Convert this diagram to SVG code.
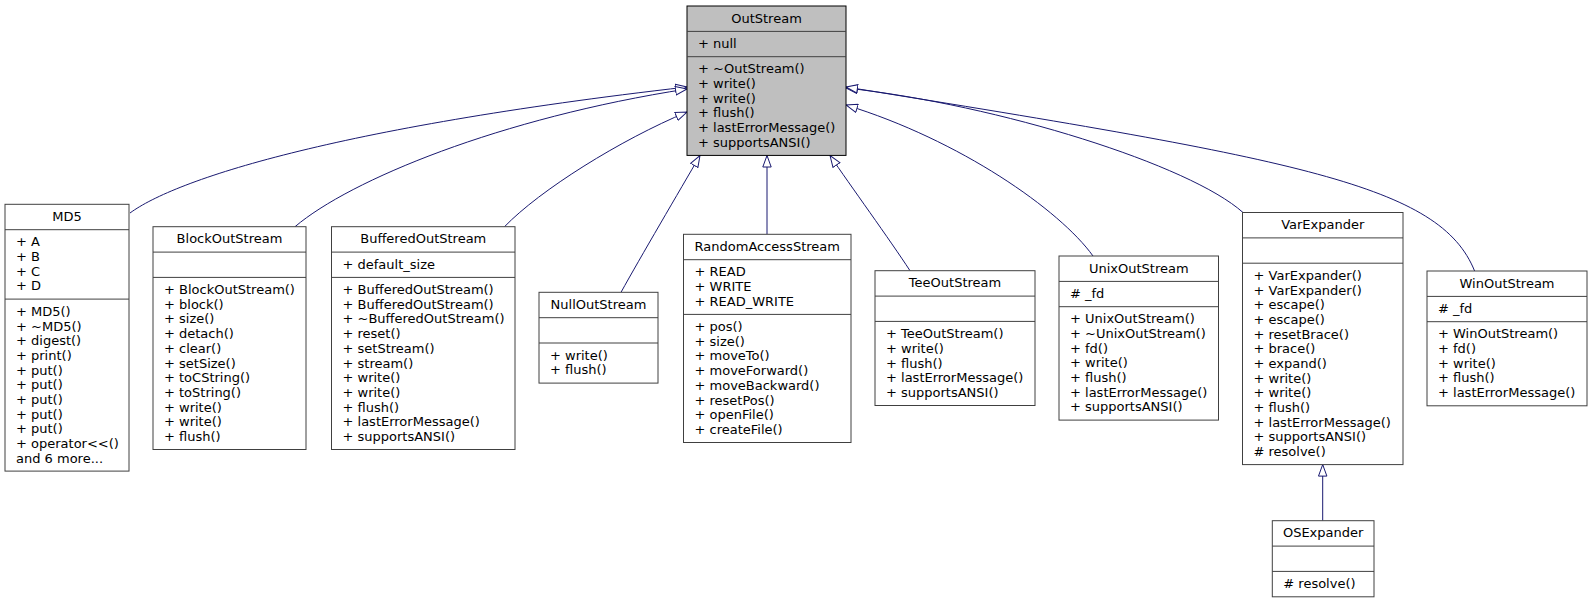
<svg xmlns="http://www.w3.org/2000/svg" width="1593" height="603" viewBox="0 0 1593 603">
<style>
.b{fill:#fff;stroke:#404040;stroke-width:1}
.g{fill:#bfbfbf;stroke:#000;stroke-width:1}
.s{stroke:#404040;stroke-width:1}
text{font-family:"DejaVu Sans","Liberation Sans",sans-serif;font-size:13px;fill:#000}
.c{text-anchor:middle}
.e{fill:none;stroke:#191970;stroke-width:1;marker-end:url(#tri)}
</style>
<defs>
<marker id="tri" viewBox="0 0 13 10" refX="12" refY="5" markerWidth="13" markerHeight="10" markerUnits="userSpaceOnUse" orient="auto">
<path d="M0.5,0.8 L12,5 L0.5,9.2 Z" fill="#fff" stroke="#191970" stroke-width="1"/>
</marker>
</defs>
<rect width="1593" height="603" fill="#fff"/>
<g id="connectors">
<path class="e" d="M130,213 C175,180 330,128 687,87"/>
<path class="e" d="M295,226.7 C350,180 500,118 687,89"/>
<path class="e" d="M504.5,226.7 C540,190 620,140 687,112"/>
<path class="e" d="M621,292.3 C640,258 680,190 700,155.5"/>
<path class="e" d="M767,234.3 L767,155.5"/>
<path class="e" d="M910,270.7 C890,240 850,185 830,155.5"/>
<path class="e" d="M1093,256 C1060,210 960,140 846,105"/>
<path class="e" d="M1243,212.5 C1190,165 1000,105 846,88"/>
<path class="e" d="M1474.6,271 C1440,185 1300,160 846,87"/>
<path class="e" d="M1322.7,520.7 L1322.7,464.6"/>
</g>
<g id="OutStream">
<rect class="g" x="687" y="6" width="159" height="149.4"/>
<line class="s" stroke="#000" x1="687" y1="31.4" x2="846" y2="31.4"/>
<line class="s" stroke="#000" x1="687" y1="56.7" x2="846" y2="56.7"/>
<text class="c" x="766.5" y="22.7">OutStream</text>
<text x="698" y="48.1">+ null</text>
<text x="698"><tspan x="698" y="73.4">+ ~OutStream()</tspan><tspan x="698" y="88.1">+ write()</tspan><tspan x="698" y="102.7">+ write()</tspan><tspan x="698" y="117.4">+ flush()</tspan><tspan x="698" y="132.1">+ lastErrorMessage()</tspan><tspan x="698" y="146.8">+ supportsANSI()</tspan></text>
</g>
<g id="MD5">
<rect class="b" x="5" y="204.3" width="124" height="266.8"/>
<line class="s" x1="5" y1="229.7" x2="129" y2="229.7"/>
<line class="s" x1="5" y1="299.1" x2="129" y2="299.1"/>
<text class="c" x="67" y="221">MD5</text>
<text><tspan x="16" y="246.4">+ A</tspan><tspan x="16" y="261.1">+ B</tspan><tspan x="16" y="275.7">+ C</tspan><tspan x="16" y="290.4">+ D</tspan></text>
<text><tspan x="16" y="315.8">+ MD5()</tspan><tspan x="16" y="330.5">+ ~MD5()</tspan><tspan x="16" y="345.1">+ digest()</tspan><tspan x="16" y="359.8">+ print()</tspan><tspan x="16" y="374.5">+ put()</tspan><tspan x="16" y="389.2">+ put()</tspan><tspan x="16" y="403.8">+ put()</tspan><tspan x="16" y="418.5">+ put()</tspan><tspan x="16" y="433.2">+ put()</tspan><tspan x="16" y="447.8">+ operator&lt;&lt;()</tspan><tspan x="16" y="462.5">and 6 more...</tspan></text>
</g>
<g id="BlockOutStream">
<rect class="b" x="153" y="226.7" width="153" height="222.8"/>
<line class="s" x1="153" y1="252.1" x2="306" y2="252.1"/>
<line class="s" x1="153" y1="277.4" x2="306" y2="277.4"/>
<text class="c" x="229.5" y="243.4">BlockOutStream</text>
<text><tspan x="164" y="294.1">+ BlockOutStream()</tspan><tspan x="164" y="308.8">+ block()</tspan><tspan x="164" y="323.4">+ size()</tspan><tspan x="164" y="338.1">+ detach()</tspan><tspan x="164" y="352.8">+ clear()</tspan><tspan x="164" y="367.5">+ setSize()</tspan><tspan x="164" y="382.1">+ toCString()</tspan><tspan x="164" y="396.8">+ toString()</tspan><tspan x="164" y="411.5">+ write()</tspan><tspan x="164" y="426.1">+ write()</tspan><tspan x="164" y="440.8">+ flush()</tspan></text>
</g>
<g id="BufferedOutStream">
<rect class="b" x="331.5" y="226.7" width="183.5" height="222.8"/>
<line class="s" x1="331.5" y1="252.1" x2="515" y2="252.1"/>
<line class="s" x1="331.5" y1="277.4" x2="515" y2="277.4"/>
<text class="c" x="423.25" y="243.4">BufferedOutStream</text>
<text x="342.5" y="268.8">+ default_size</text>
<text><tspan x="342.5" y="294.1">+ BufferedOutStream()</tspan><tspan x="342.5" y="308.8">+ BufferedOutStream()</tspan><tspan x="342.5" y="323.4">+ ~BufferedOutStream()</tspan><tspan x="342.5" y="338.1">+ reset()</tspan><tspan x="342.5" y="352.8">+ setStream()</tspan><tspan x="342.5" y="367.5">+ stream()</tspan><tspan x="342.5" y="382.1">+ write()</tspan><tspan x="342.5" y="396.8">+ write()</tspan><tspan x="342.5" y="411.5">+ flush()</tspan><tspan x="342.5" y="426.1">+ lastErrorMessage()</tspan><tspan x="342.5" y="440.8">+ supportsANSI()</tspan></text>
</g>
<g id="NullOutStream">
<rect class="b" x="539" y="292.3" width="119" height="90.8"/>
<line class="s" x1="539" y1="317.7" x2="658" y2="317.7"/>
<line class="s" x1="539" y1="343" x2="658" y2="343"/>
<text class="c" x="598.5" y="309">NullOutStream</text>
<text><tspan x="550" y="359.7">+ write()</tspan><tspan x="550" y="374.4">+ flush()</tspan></text>
</g>
<g id="RandomAccessStream">
<rect class="b" x="683.5" y="234.3" width="167.5" height="208.2"/>
<line class="s" x1="683.5" y1="259.7" x2="851" y2="259.7"/>
<line class="s" x1="683.5" y1="314.4" x2="851" y2="314.4"/>
<text class="c" x="767.25" y="251">RandomAccessStream</text>
<text><tspan x="694.5" y="276.4">+ READ</tspan><tspan x="694.5" y="291.1">+ WRITE</tspan><tspan x="694.5" y="305.7">+ READ_WRITE</tspan></text>
<text><tspan x="694.5" y="331.1">+ pos()</tspan><tspan x="694.5" y="345.8">+ size()</tspan><tspan x="694.5" y="360.4">+ moveTo()</tspan><tspan x="694.5" y="375.1">+ moveForward()</tspan><tspan x="694.5" y="389.8">+ moveBackward()</tspan><tspan x="694.5" y="404.5">+ resetPos()</tspan><tspan x="694.5" y="419.1">+ openFile()</tspan><tspan x="694.5" y="433.8">+ createFile()</tspan></text>
</g>
<g id="TeeOutStream">
<rect class="b" x="875" y="270.7" width="160" height="134.8"/>
<line class="s" x1="875" y1="296.1" x2="1035" y2="296.1"/>
<line class="s" x1="875" y1="321.4" x2="1035" y2="321.4"/>
<text class="c" x="955" y="287.4">TeeOutStream</text>
<text><tspan x="886" y="338.1">+ TeeOutStream()</tspan><tspan x="886" y="352.8">+ write()</tspan><tspan x="886" y="367.5">+ flush()</tspan><tspan x="886" y="382.1">+ lastErrorMessage()</tspan><tspan x="886" y="396.8">+ supportsANSI()</tspan></text>
</g>
<g id="UnixOutStream">
<rect class="b" x="1059" y="256" width="159.5" height="164.1"/>
<line class="s" x1="1059" y1="281.4" x2="1218.5" y2="281.4"/>
<line class="s" x1="1059" y1="306.7" x2="1218.5" y2="306.7"/>
<text class="c" x="1138.75" y="272.7">UnixOutStream</text>
<text x="1070" y="298.1"># _fd</text>
<text><tspan x="1070" y="323.4">+ UnixOutStream()</tspan><tspan x="1070" y="338.1">+ ~UnixOutStream()</tspan><tspan x="1070" y="352.8">+ fd()</tspan><tspan x="1070" y="367.4">+ write()</tspan><tspan x="1070" y="382.1">+ flush()</tspan><tspan x="1070" y="396.8">+ lastErrorMessage()</tspan><tspan x="1070" y="411.4">+ supportsANSI()</tspan></text>
</g>
<g id="VarExpander">
<rect class="b" x="1242.5" y="212.5" width="160.5" height="252.1"/>
<line class="s" x1="1242.5" y1="237.9" x2="1403" y2="237.9"/>
<line class="s" x1="1242.5" y1="263.2" x2="1403" y2="263.2"/>
<text class="c" x="1322.75" y="229.2">VarExpander</text>
<text><tspan x="1253.5" y="279.9">+ VarExpander()</tspan><tspan x="1253.5" y="294.6">+ VarExpander()</tspan><tspan x="1253.5" y="309.2">+ escape()</tspan><tspan x="1253.5" y="323.9">+ escape()</tspan><tspan x="1253.5" y="338.6">+ resetBrace()</tspan><tspan x="1253.5" y="353.2">+ brace()</tspan><tspan x="1253.5" y="367.9">+ expand()</tspan><tspan x="1253.5" y="382.6">+ write()</tspan><tspan x="1253.5" y="397.3">+ write()</tspan><tspan x="1253.5" y="411.9">+ flush()</tspan><tspan x="1253.5" y="426.6">+ lastErrorMessage()</tspan><tspan x="1253.5" y="441.3">+ supportsANSI()</tspan><tspan x="1253.5" y="455.9"># resolve()</tspan></text>
</g>
<g id="WinOutStream">
<rect class="b" x="1427" y="271" width="160" height="134.8"/>
<line class="s" x1="1427" y1="296.4" x2="1587" y2="296.4"/>
<line class="s" x1="1427" y1="321.7" x2="1587" y2="321.7"/>
<text class="c" x="1507" y="287.7">WinOutStream</text>
<text x="1438" y="313.1"># _fd</text>
<text><tspan x="1438" y="338.4">+ WinOutStream()</tspan><tspan x="1438" y="353.1">+ fd()</tspan><tspan x="1438" y="367.8">+ write()</tspan><tspan x="1438" y="382.4">+ flush()</tspan><tspan x="1438" y="397.1">+ lastErrorMessage()</tspan></text>
</g>
<g id="OSExpander">
<rect class="b" x="1272.3" y="520.7" width="101.7" height="76.1"/>
<line class="s" x1="1272.3" y1="546.1" x2="1374" y2="546.1"/>
<line class="s" x1="1272.3" y1="571.4" x2="1374" y2="571.4"/>
<text class="c" x="1323.15" y="537.4">OSExpander</text>
<text x="1283.3" y="588.1"># resolve()</text>
</g>
</svg>
